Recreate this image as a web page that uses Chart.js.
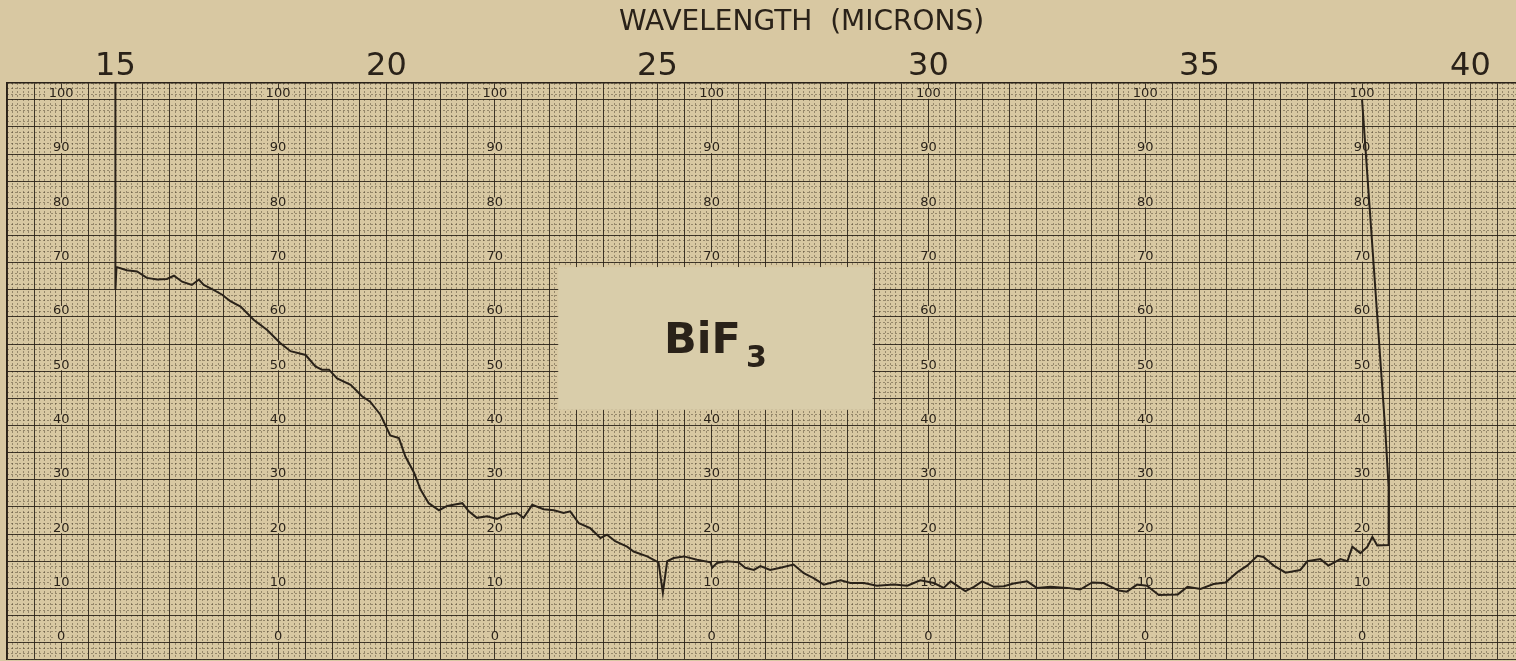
<!DOCTYPE html>
<html>
<head>
<meta charset="utf-8">
<script src="https://cdn.jsdelivr.net/npm/chart.js@4.4.1/dist/chart.umd.min.js"></script>
<style>
  html, body { margin: 0; padding: 0; background: #d8c8a2; }
  canvas { display: block; }
</style>
</head>
<body>
<canvas id="myChart" width="1516" height="661"></canvas>
<script>
// Registro del espectro de BiF3: longitud de onda (micrones) vs transmision (%)
var wavelength = [
  15.0, 15.0, 15.02, 15.21, 15.40, 15.58, 15.77, 15.95, 16.08, 16.23,
  16.41, 16.54, 16.63, 16.81, 16.97, 17.12, 17.31, 17.55, 17.80, 18.04,
  18.23, 18.51, 18.69, 18.81, 18.94, 19.09, 19.34, 19.55, 19.70, 19.89,
  20.07, 20.23, 20.35, 20.51, 20.63, 20.78, 20.97, 21.12, 21.24, 21.40,
  21.52, 21.67, 21.86, 22.04, 22.23, 22.41, 22.53, 22.69, 22.90, 23.09,
  23.27, 23.39, 23.55, 23.76, 23.95, 24.07, 24.22, 24.44, 24.56, 24.81,
  25.02, 25.10, 25.18, 25.30, 25.49, 25.73, 25.98, 26.01, 26.10, 26.28,
  26.50, 26.62, 26.78, 26.90, 27.08, 27.27, 27.51, 27.70, 27.88, 28.07,
  28.38, 28.56, 28.81, 29.05, 29.36, 29.61, 29.85, 30.10, 30.28, 30.41,
  30.68, 30.84, 30.99, 31.21, 31.39, 31.57, 31.82, 32.00, 32.25, 32.56,
  32.80, 33.02, 33.23, 33.51, 33.66, 33.85, 34.03, 34.25, 34.60, 34.78,
  35.02, 35.26, 35.48, 35.70, 35.88, 36.07, 36.18, 36.37, 36.59, 36.86,
  36.99, 37.23, 37.38, 37.60, 37.73, 37.82, 37.97, 38.10, 38.19, 38.28,
  38.49, 38.49, 38.43, 38.0
];
var transmission = [
  103.1, 65.0, 69.2, 68.6, 68.4, 67.2, 66.9, 67.0, 67.6, 66.5,
  65.9, 66.9, 65.9, 65.0, 64.1, 62.9, 61.9, 59.5, 57.6, 55.2,
  53.7, 53.0, 50.9, 50.3, 50.3, 48.7, 47.5, 45.4, 44.4, 42.0,
  38.2, 37.7, 34.3, 31.3, 28.2, 25.7, 24.4, 25.2, 25.4, 25.7,
  24.2, 23.0, 23.3, 22.8, 23.6, 23.9, 23.0, 25.4, 24.6, 24.4,
  23.9, 24.2, 22.0, 21.1, 19.3, 19.9, 18.7, 17.7, 16.8, 15.9,
  14.8, 9.2, 15.0, 15.6, 15.9, 15.3, 14.8, 13.8, 14.7, 15.0,
  14.8, 13.8, 13.4, 14.1, 13.4, 13.8, 14.4, 12.8, 11.9, 10.7,
  11.5, 11.0, 11.0, 10.5, 10.7, 10.5, 11.5, 11.0, 10.1, 11.3,
  9.5, 10.3, 11.3, 10.3, 10.4, 10.9, 11.3, 10.1, 10.3, 10.1,
  9.8, 11.1, 11.0, 9.6, 9.4, 10.7, 10.5, 8.8, 8.9, 10.3,
  9.9, 10.8, 11.1, 13.0, 14.2, 16.0, 15.8, 14.2, 12.9, 13.4,
  15.0, 15.4, 14.2, 15.4, 15.0, 17.7, 16.5, 17.7, 19.5, 17.9,
  18.0, 28.7, 38.9, 100
];

var wavelengthTicks = [15, 20, 25, 30, 35, 40];
var labelColumns = [14, 18, 22, 26, 30, 34, 38];   // columnas del papel con numeros
var labelValues = [0, 10, 20, 30, 40, 50, 60, 70, 80, 90, 100];
var sampleName = 'BiF';
var sampleSub = '3';
var boxX = [23.17, 28.97];   // recuadro del nombre, en micrones
var boxY = [42.9, 69.2];     // y en %

var xMin = 13, xMax = 40.84, yMin = -3, yMax = 103.1;

var paper = '#d8c8a2';
var ink = '#2a2219';
var fineInk = 'rgba(60,48,30,0.42)';
var majorInk = 'rgba(40,32,22,0.85)';
var font = '"DejaVu Sans", sans-serif';

// lista de valores para las lineas del papel
function steps(from, to, step) {
  var out = [];
  for (var i = 0; ; i++) {
    var v = Math.round((from + i * step) * 100) / 100;
    if (v > to + 1e-9) break;
    out.push({ value: v });
  }
  return out;
}

var paperPlugin = {
  id: 'paper',
  beforeDraw: function (chart) {
    var ctx = chart.ctx;
    ctx.save();
    ctx.fillStyle = paper;
    ctx.fillRect(0, 0, chart.width, chart.height);
    ctx.restore();
  },
  beforeDatasetsDraw: function (chart) {
    var ctx = chart.ctx, xs = chart.scales.x, ys = chart.scales.y;
    ctx.save();
    // numeros impresos en el papel
    ctx.font = '13px ' + font;
    ctx.textAlign = 'center';
    ctx.textBaseline = 'middle';
    labelColumns.forEach(function (c) {
      labelValues.forEach(function (v) {
        var px = xs.getPixelForValue(c), py = ys.getPixelForValue(v) - 6;
        var w = ctx.measureText(String(v)).width + 4;
        ctx.fillStyle = paper;
        ctx.fillRect(px - w / 2, py - 5, w, 10);
        ctx.fillStyle = ink;
        ctx.fillText(String(v), px, py);
      });
    });
    // recuadro con el compuesto
    var x0 = xs.getPixelForValue(boxX[0]), x1 = xs.getPixelForValue(boxX[1]);
    var y0 = ys.getPixelForValue(boxY[1]), y1 = ys.getPixelForValue(boxY[0]);
    ctx.fillStyle = '#d9cdaa';
    ctx.fillRect(x0, y0, x1 - x0, y1 - y0);
    var cx = (x0 + x1) / 2, cy = (y0 + y1) / 2;
    ctx.fillStyle = ink;
    ctx.textAlign = 'left';
    ctx.textBaseline = 'alphabetic';
    ctx.font = 'bold 43px ' + font;
    var wName = ctx.measureText(sampleName).width;
    ctx.font = 'bold 30px ' + font;
    var wSub = ctx.measureText(sampleSub).width;
    var start = cx - (wName + 5 + wSub) / 2;
    ctx.font = 'bold 43px ' + font;
    ctx.fillText(sampleName, start, cy + 15);
    ctx.font = 'bold 30px ' + font;
    ctx.fillText(sampleSub, start + wName + 5, cy + 29);
    ctx.restore();
  }
};

var points = wavelength.map(function (w, i) {
  return { x: w, y: transmission[i] };
});

var ctx = document.getElementById('myChart').getContext('2d');
var myChart = new Chart(ctx, {
  type: 'line',
  data: {
    datasets: [{
      label: 'BiF3',
      data: points,
      xAxisID: 'x',
      yAxisID: 'y',
      borderColor: ink,
      borderWidth: 2,
      pointRadius: 0,
      tension: 0,
      fill: false
    }]
  },
  options: {
    responsive: false,
    animation: false,
    layout: { padding: { left: 7, right: 0, top: 0, bottom: 2 } },
    plugins: {
      legend: { display: false },
      tooltip: { enabled: false }
    },
    scales: {
      xf: {
        type: 'linear',
        position: 'bottom',
        min: xMin, max: xMax,
        afterBuildTicks: function (s) { s.ticks = steps(xMin, xMax, 0.1); },
        afterFit: function (s) { s.height = 0; },
        ticks: { display: false },
        grid: { color: fineInk, lineWidth: 1, drawTicks: false, z: -1 },
        border: { display: false, dash: [2, 2] }
      },
      yf: {
        type: 'linear',
        position: 'right',
        min: yMin, max: yMax,
        afterBuildTicks: function (s) { s.ticks = steps(-3, 103, 1); },
        afterFit: function (s) { s.width = 0; },
        ticks: { display: false },
        grid: { color: fineInk, lineWidth: 1, drawTicks: false, z: -1 },
        border: { display: false, dash: [2, 2] }
      },
      x: {
        type: 'linear',
        position: 'top',
        min: xMin, max: xMax,
        afterBuildTicks: function (s) { s.ticks = steps(xMin, 40.5, 0.5); },
        afterFit: function (s) { s.height = 83; },
        ticks: {
          autoSkip: false,
          maxRotation: 0,
          minRotation: 0,
          padding: 0,
          color: ink,
          font: { family: font, size: 32, lineHeight: 1 },
          callback: function (value) {
            return wavelengthTicks.indexOf(value) >= 0 ? String(value) : '';
          }
        },
        title: {
          display: true,
          text: '         WAVELENGTH  (MICRONS)',
          color: ink,
          font: { family: font, size: 28, lineHeight: 1.2 },
          padding: { top: 6, bottom: 0 }
        },
        grid: { color: majorInk, lineWidth: 1, drawTicks: false },
        border: { display: true, color: ink, width: 1.5 }
      },
      y: {
        type: 'linear',
        position: 'left',
        min: yMin, max: yMax,
        afterBuildTicks: function (s) {
          s.ticks = [{ value: yMin }].concat(steps(0, 100, 5));
        },
        afterFit: function (s) { s.width = 0; },
        ticks: { display: false },
        grid: { color: majorInk, lineWidth: 1, drawTicks: false },
        border: { display: true, color: ink, width: 1.5 }
      }
    }
  },
  plugins: [paperPlugin]
});
</script>
</body>
</html>
